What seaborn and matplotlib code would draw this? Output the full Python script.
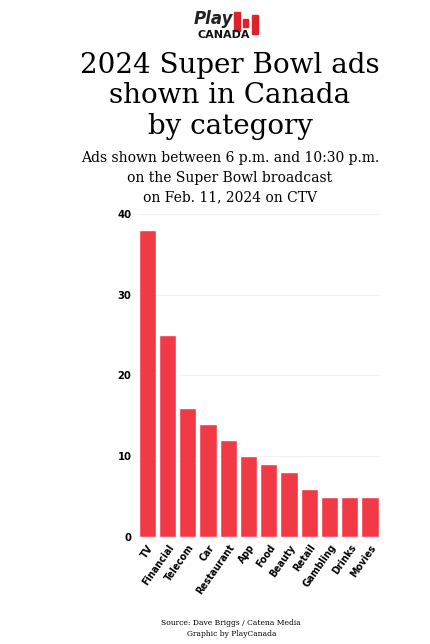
import pandas as pd
import matplotlib.pyplot as plt
import seaborn as sns

categories = ["TV", "Financial", "Telecom", "Car", "Restaurant", "App", "Food",
              "Beauty", "Retail", "Gambling", "Drinks", "Movies"]
ads = [38, 25, 16, 14, 12, 10, 9, 8, 6, 5, 5, 5]
yticks = [0, 10, 20, 30, 40]

df = pd.DataFrame({"category": categories, "ads": ads})

sns.set_style("white")
plt.rcParams["text.color"] = "black"

fig = plt.figure(figsize=(4.3, 6.44), dpi=100)
ax = fig.add_axes([0.319, 0.166, 0.565, 0.502])

sns.barplot(data=df, x="category", y="ads", color="#F23A47", saturation=1,
            width=0.86, ax=ax)

ax.set_ylim(0, 40)
ax.set_yticks(yticks)
ax.set_xlim(-0.5, len(categories) - 0.5)
ax.grid(axis="y", color="#f0f0f0", linewidth=0.6)
ax.set_axisbelow(True)
sns.despine(ax=ax, left=True, bottom=True)
ax.set_xlabel("")
ax.set_ylabel("")
ax.tick_params(length=0, pad=4, colors="black")
for lab in ax.get_yticklabels():
    lab.set_family("DejaVu Sans")
    lab.set_fontstretch("condensed")
    lab.set_fontweight("bold")
    lab.set_fontsize(8)
ax.set_xticks(range(len(categories)))
ax.set_xticklabels(categories, rotation=55, ha="right", rotation_mode="anchor",
                   family="DejaVu Sans", fontstretch="condensed",
                   fontweight="bold", fontsize=7.5)

# logo
fig.text(0.497, 0.970, "Play", ha="center", va="center", fontsize=12,
         fontweight="bold", style="italic", color="#222222")
fig.text(0.521, 0.945, "CANADA", ha="center", va="center", fontsize=8,
         fontweight="bold", color="#111111")
for x0, w, y0, h in [(0.545, 0.014, 0.952, 0.030), (0.587, 0.014, 0.947, 0.030),
                     (0.566, 0.010, 0.958, 0.012)]:
    fig.patches.append(plt.Rectangle((x0, y0), w, h, transform=fig.transFigure,
                                     color="#E0202A"))

# titles
serif = "DejaVu Serif"
fig.text(0.535, 0.899, "2024 Super Bowl ads", ha="center", va="center",
         fontsize=20, family=serif)
fig.text(0.535, 0.851, "shown in Canada", ha="center", va="center",
         fontsize=20, family=serif)
fig.text(0.535, 0.803, "by category", ha="center", va="center",
         fontsize=20, family=serif)
fig.text(0.535, 0.754, "Ads shown between 6 p.m. and 10:30 p.m.", ha="center",
         va="center", fontsize=10, family=serif)
fig.text(0.535, 0.724, "on the Super Bowl broadcast", ha="center",
         va="center", fontsize=10, family=serif)
fig.text(0.535, 0.694, "on Feb. 11, 2024 on CTV", ha="center",
         va="center", fontsize=10, family=serif)

fig.text(0.538, 0.033, "Source: Dave Briggs / Catena Media", ha="center",
         va="center", fontsize=5.5, family=serif)
fig.text(0.538, 0.016, "Graphic by PlayCanada", ha="center",
         va="center", fontsize=5.5, family=serif)

fig.savefig("out.png", dpi=100)
